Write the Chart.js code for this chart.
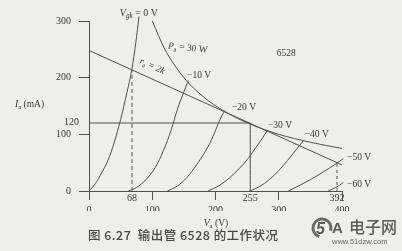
<!DOCTYPE html>
<html><head><meta charset="utf-8">
<script src="https://cdn.jsdelivr.net/npm/chart.js@4/dist/chart.umd.min.js"></script>
<style>html,body{margin:0;padding:0;background:#eeeeec;overflow:hidden}</style>
</head><body>
<canvas id="c" width="402" height="251" style="width:402px;height:251px;display:block"></canvas>
<script>
// ---- data (Va in V, Ia in mA) ----
const xTicks = [0, 68, 100, 200, 255, 300, 392, 400];
const xMarkedTicks = [68, 255, 392];
const yTicks = [0, 100, 200, 300];
const gridLabels = ['V_gk = 0 V', '−10 V', '−20 V', '−30 V', '−40 V', '−50 V', '−60 V'];

const vg0   = [[0,0],[10,13],[20,32],[30,54],[40,86],[50,126],[60,174],[68,216],[74,262],[79,308]];
const vg10  = [[62,0],[75,6],[90,20],[105,42],[118,72],[130,108],[140,145],[150,175],[157,195]];
const vg20  = [[124,0],[140,9],[155,24],[170,46],[185,72],[196,96],[204,118],[210,133],[215,142]];
const vg30  = [[188,0],[205,9],[222,23],[238,40],[252,58],[264,77],[274,93],[282,107]];
const vg40  = [[254,0],[270,8],[285,20],[300,36],[314,54],[327,72],[339,89]];
const vg50  = [[315,0],[333,10],[350,20],[365,30],[378,39],[392,49],[402,57]];
const vg60  = [[378,0],[388,5],[396,10],[402,15]];
const pa30W = [[100,300],[120,250],[150,200],[180,167],[215,140],[255,118],[300,100],[350,86],[400,75]];
const loadLine2k = [[0,248],[400,46]];
const opPoint = [[0,120],[255,120],[255,0]];
const dash68  = [[68,0],[68,214]];
const dash392 = [[392,0],[392,48]];

// ---- styling ----
const INK = '#505050';
const TXT = '#383838';
const SERIF = '"Liberation Serif","DejaVu Serif",serif';

function ds(points, extra) {
  return Object.assign({
    data: points.map(p => ({x: p[0], y: p[1]})),
    showLine: true, borderColor: INK, borderWidth: 1, pointRadius: 0, pointHoverRadius: 0,
    fill: false, tension: 0.4, cubicInterpolationMode: 'monotone', clip: false
  }, extra || {});
}

function rich(ctx, segs, x, y, size, align) {
  const fontFor = s => (s.i ? 'italic ' : '') + (s.sub ? size * 0.72 : size) + 'px ' + SERIF;
  let w = 0;
  segs.forEach(s => { ctx.font = fontFor(s); w += ctx.measureText(s.t).width; });
  let cx = align === 'center' ? x - w / 2 : (align === 'right' ? x - w : x);
  ctx.textAlign = 'left';
  ctx.textBaseline = 'middle';
  segs.forEach(s => {
    ctx.font = fontFor(s);
    ctx.fillText(s.t, cx, y + (s.sub ? size * 0.3 : 0));
    cx += ctx.measureText(s.t).width;
  });
}

function spaced(ctx, text, x0, x1, y) {
  const chars = Array.from(text);
  let tw = 0; chars.forEach(c => tw += ctx.measureText(c).width);
  const gap = chars.length > 1 ? Math.max(0, (x1 - x0 - tw) / (chars.length - 1)) : 0;
  let x = x0;
  ctx.textAlign = 'left';
  chars.forEach(c => { ctx.fillText(c, x, y); x += ctx.measureText(c).width + gap; });
}

const decor = {
  id: 'decor',
  beforeDraw(chart) {
    const c = chart.ctx;
    c.save(); c.fillStyle = '#eeeeec'; c.fillRect(0, 0, chart.width, chart.height); c.restore();
  },
  afterDraw(chart) {
    const c = chart.ctx, xs = chart.scales.x, ys = chart.scales.y;
    const px = v => xs.getPixelForValue(v), py = v => ys.getPixelForValue(v);
    c.save();
    c.fillStyle = TXT;
    // curve labels
    rich(c, [{t:'V', i:true}, {t:'gk', sub:true, i:true}, {t:' = 0 V'}], px(79), py(314), 10, 'center');
    const gl = [[155,203],[226,148],[283,116],[341,99],[408,60],[408,12]];
    gl.forEach((p, k) => rich(c, [{t: gridLabels[k + 1]}], px(p[0]), py(p[1]), 9.5, 'left'));
    // Pa label
    c.save();
    c.translate(px(125), py(256)); c.rotate(6 * Math.PI / 180);
    rich(c, [{t:'P', i:true}, {t:'a', sub:true}, {t:' = 30 W'}], 0, 0, 9.5, 'left');
    c.restore();
    // ra label along load line
    const ang = Math.atan2(py(loadLine2k[1][1]) - py(loadLine2k[0][1]), px(loadLine2k[1][0]) - px(loadLine2k[0][0]));
    c.save();
    c.translate(px(100), py(220)); c.rotate(ang);
    rich(c, [{t:'r', i:true}, {t:'a', sub:true}, {t:' = 2', i:true}, {t:'k', i:true}], 0, 0, 9.5, 'center');
    c.restore();
    rich(c, [{t:'6528'}], px(297), py(243), 9.5, 'left');
    // 120 label
    rich(c, [{t:'120'}], xs.left - 10, py(120) - 1, 10, 'right');
    // axis titles
    rich(c, [{t:'I', i:true}, {t:'a', sub:true}, {t:' (mA)'}], 15, 104, 9.5, 'left');
    rich(c, [{t:'V', i:true}, {t:'a', sub:true}, {t:' (V)'}], 216, 223, 9.5, 'center');
    // caption
    c.fillStyle = '#474747';
    c.font = '500 12.5px "Noto Sans CJK SC"';
    c.textBaseline = 'middle';
    spaced(c, '图 6.27  输出管 6528 的工作状况', 88, 278, 235);
    // watermark
    c.strokeStyle = '#6a6a6a'; c.lineWidth = 3;
    c.beginPath(); c.arc(322, 228, 9, 0.6 * Math.PI, 2.1 * Math.PI); c.stroke();
    c.fillStyle = '#5a5a5a';
    c.font = 'bold italic 16px "Liberation Sans",sans-serif';
    c.textBaseline = 'alphabetic';
    c.fillText('5', 316, 234);
    c.font = 'bold 15px "Liberation Sans",sans-serif';
    c.fillText('A', 332, 233);
    c.font = '500 16px "Noto Sans CJK SC"';
    c.fillText('电子网', 349, 233);
    c.font = '7.5px "Liberation Sans",sans-serif';
    c.fillStyle = '#666';
    c.fillText('www.51dzw.com', 332, 244);
    c.restore();
  }
};

new Chart(document.getElementById('c'), {
  type: 'scatter',
  data: {
    datasets: [
      ds(vg0), ds(vg10), ds(vg20), ds(vg30), ds(vg40), ds(vg50), ds(vg60),
      ds(pa30W),
      ds(loadLine2k, {tension: 0}),
      ds(opPoint, {tension: 0}),
      ds(dash68, {tension: 0, borderDash: [4, 3]}),
      ds(dash392, {tension: 0, borderDash: [3, 3]})
    ]
  },
  options: {
    responsive: false, animation: false, devicePixelRatio: 1,
    layout: {padding: {left: 49, right: 60, top: 21, bottom: 40}},
    plugins: {legend: {display: false}, tooltip: {enabled: false}, title: {display: false}},
    scales: {
      x: {
        type: 'linear', min: 0, max: 400,
        afterBuildTicks: s => { s.ticks = xTicks.map(v => ({value: v})); },
        afterFit: s => { s.height = 20; },
        grid: {drawOnChartArea: false, drawTicks: true, tickLength: 9, tickWidth: 1,
               tickColor: ctx => (ctx.tick && xMarkedTicks.includes(ctx.tick.value)) ? 'rgba(0,0,0,0)' : INK},
        border: {display: true, color: INK, width: 1},
        ticks: {autoSkip: false, maxRotation: 0, minRotation: 0, padding: -8, color: TXT,
                font: {family: SERIF, size: 10},
                callback: v => xMarkedTicks.includes(v) ? String(v) : ['', String(v)]}
      },
      y: {
        type: 'linear', min: 0, max: 300,
        afterBuildTicks: s => { s.ticks = yTicks.map(v => ({value: v})); },
        afterFit: s => { s.width = 40; },
        grid: {drawOnChartArea: false, drawTicks: true, tickLength: 10, tickColor: INK, tickWidth: 1},
        border: {display: true, color: INK, width: 1},
        ticks: {padding: 8, color: TXT, font: {family: SERIF, size: 10}}
      }
    }
  },
  plugins: [decor]
});
</script>
</body></html>
